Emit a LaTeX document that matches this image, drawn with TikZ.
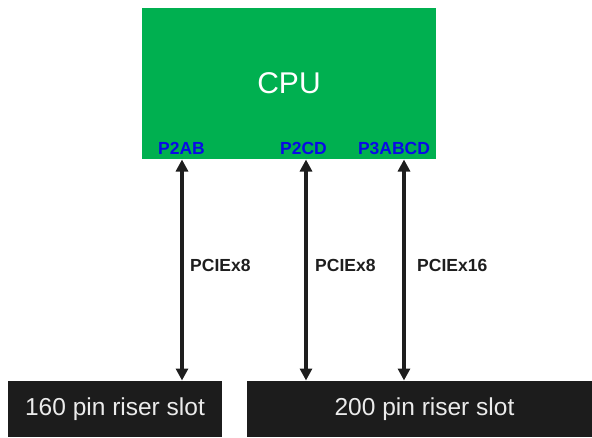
\documentclass[tikz,border=0pt]{standalone}
\usepackage{fontspec}
\setmainfont{Liberation Sans}
\usetikzlibrary{arrows.meta}
\definecolor{cpugreen}{RGB}{0,176,80}
\definecolor{slotdark}{RGB}{28,28,28}
\definecolor{portblue}{RGB}{10,10,230}
\definecolor{labgray}{RGB}{30,30,30}
\tikzset{
  cpubox/.style={fill=cpugreen, draw=none, minimum width=294pt, minimum height=151pt, inner sep=0pt, text=white, font=\fontsize{30}{32}\selectfont},
  slotbox/.style={fill=slotdark, draw=none, minimum height=56pt, inner sep=0pt, text=white!92!black, font=\fontsize{24.5}{26}\selectfont},
  port/.style={text=portblue, font=\bfseries\fontsize{17.5}{19}\selectfont, inner sep=0pt},
  bus/.style={text=labgray, font=\bfseries\fontsize{17.5}{19}\selectfont, inner sep=0pt, anchor=west},
  link/.style={line width=3.5pt, draw=labgray, {Triangle[width=12pt,length=12pt]}-{Triangle[width=12pt,length=12pt]}}
}
\begin{document}
\begin{tikzpicture}[x=1pt,y=-1pt]
\useasboundingbox (0,0) rectangle (592,437);
\node[cpubox] (cpu) at (289,83.5) {CPU};
\node[slotbox, minimum width=214pt] (slot1) at (115,409) {160 pin riser slot};
\node[slotbox, minimum width=345pt] (slot2) at (419.5,409) {\hspace*{10pt}200 pin riser slot};
\node[port] (p1) at (181.5,148) {P2AB};
\node[port] (p2) at (303.5,148) {P2CD};
\node[port] (p3) at (394,148) {P3ABCD};
\coordinate (a1t) at (182,159.5);
\coordinate (a1b) at (182,380.5);
\coordinate (a2t) at (306,159.5);
\coordinate (a2b) at (306,380.5);
\coordinate (a3t) at (404,159.5);
\coordinate (a3b) at (404,380.5);
\draw[link] (a1t) -- (a1b);
\draw[link] (a2t) -- (a2b);
\draw[link] (a3t) -- (a3b);
\node[bus] (b1) at (190,265) {PCIEx8};
\node[bus] (b2) at (315,265) {PCIEx8};
\node[bus] (b3) at (417,265) {PCIEx16};
\end{tikzpicture}
\end{document}
